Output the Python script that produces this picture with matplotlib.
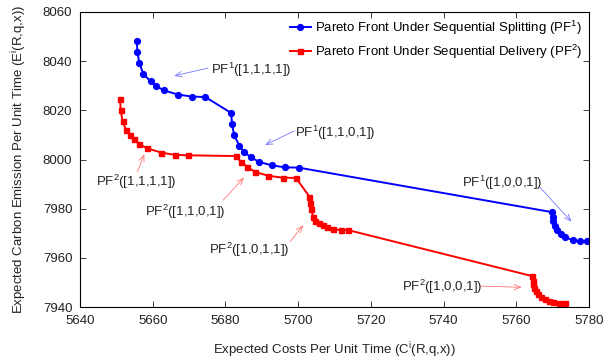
import matplotlib
matplotlib.use('Agg')
import matplotlib.pyplot as plt

plt.rcParams['font.family'] = ['Liberation Sans', 'DejaVu Sans']
plt.rcParams['mathtext.default'] = 'regular'
plt.rcParams['font.size'] = 9.5

# PF1: sequential splitting
cost_pf1 = [5655.6, 5655.8, 5656.3, 5657.4, 5659.4, 5660.9, 5663.1, 5667.0, 5670.8, 5674.5,
            5681.6, 5681.8, 5682.4, 5683.8, 5685.2, 5686.9, 5689.1, 5692.8, 5696.5, 5700.1,
            5769.8, 5770.0, 5770.2, 5770.7, 5771.3, 5772.2, 5773.5, 5775.5, 5777.5, 5779.4]
emis_pf1 = [8048.3, 8043.6, 8039.4, 8034.8, 8031.8, 8029.9, 8028.1, 8026.4, 8025.6, 8025.4,
            8018.9, 8014.4, 8010.0, 8005.6, 8002.9, 8001.1, 7999.1, 7997.6, 7996.8, 7996.7,
            7978.6, 7976.7, 7975.1, 7972.9, 7971.3, 7969.7, 7968.3, 7967.2, 7966.7, 7966.7]

# PF2: sequential delivery
cost_pf2 = [5651.0, 5651.2, 5651.7, 5652.7, 5653.8, 5654.9, 5656.3, 5658.5, 5662.4, 5666.0,
            5669.7, 5682.9, 5684.3, 5686.0, 5688.0, 5691.8, 5695.7, 5699.4,
            5703.1, 5703.3, 5703.5, 5704.2, 5704.7, 5705.7, 5706.7, 5707.8, 5709.7, 5711.7, 5713.7,
            5764.3, 5764.5, 5764.7, 5765.0, 5765.4, 5766.0, 5766.7, 5767.8, 5769.1, 5770.2, 5771.7, 5773.3]
emis_pf2 = [8024.6, 8020.1, 8015.5, 8012.0, 8010.1, 8008.2, 8006.3, 8004.5, 8002.8, 8001.9,
            8001.7, 8001.4, 7998.9, 7997.1, 7995.0, 7993.4, 7992.6, 7992.5,
            7984.9, 7982.4, 7979.7, 7976.7, 7975.1, 7974.0, 7973.2, 7972.7, 7971.6, 7971.3, 7971.3,
            7952.6, 7950.7, 7949.3, 7947.7, 7946.4, 7945.3, 7944.2, 7943.4, 7942.5, 7942.0, 7941.7, 7941.7]

# (label, arrow head, arrow tail, text pos, ha, colour)
notes = [
    ('PF$^1$([1,1,1,1])', (5665.9, 8034.0), (5675.2, 8037.2), (5676.0, 8036.4), 'left', '#7777ff'),
    ('PF$^1$([1,1,0,1])', (5690.9, 8005.9), (5698.9, 8011.6), (5699.2, 8010.8), 'left', '#7777ff'),
    ('PF$^1$([1,0,0,1])', (5775.2, 7974.7), (5766.5, 7988.7), (5745.2, 7990.3), 'left', '#7777ff'),
    ('PF$^2$([1,1,1,1])', (5657.7, 8002.2), (5655.8, 7995.0), (5644.4, 7990.8), 'left', '#ff7777'),
    ('PF$^2$([1,1,0,1])', (5685.1, 7992.7), (5679.4, 7983.5), (5657.9, 7978.8), 'left', '#ff7777'),
    ('PF$^2$([1,0,1,1])', (5701.4, 7973.3), (5697.8, 7966.6), (5697.5, 7963.2), 'right', '#ff7777'),
    ('PF$^2$([1,0,0,1])', (5761.5, 7948.0), (5750.3, 7948.5), (5728.5, 7948.2), 'left', '#ff7777'),
]

fig = plt.figure(figsize=(6.12, 3.61), dpi=100)
ax = fig.add_axes([80/612, 1-307/361, 509/612, 295/361])

ax.plot(cost_pf1, emis_pf1, '-o', color='#0000ff', lw=1.4, ms=4.2,
        label='Pareto Front Under Sequential Splitting (PF$^1$)')
ax.plot(cost_pf2, emis_pf2, '-s', color='#ff0000', lw=1.4, ms=3.6,
        label='Pareto Front Under Sequential Delivery (PF$^2$)')

for label, head, tail, tpos, ha, c in notes:
    ax.annotate('', xy=head, xytext=tail,
                arrowprops=dict(arrowstyle='->,head_length=0.5,head_width=0.2',
                                color=c, lw=0.6, shrinkA=0, shrinkB=0))
    ax.text(tpos[0], tpos[1], label, ha=ha, va='center', color='#222222')

ax.set_xlim(5640, 5780)
ax.set_ylim(7940, 8060)
ax.set_xticks(range(5640, 5781, 20))
ax.set_yticks(range(7940, 8061, 20))
ax.tick_params(direction='in', top=True, right=True, length=4, width=0.6,
               colors='#222222', pad=5.5)
for s in ax.spines.values():
    s.set_linewidth(0.8)

ax.set_xlabel('Expected Costs Per Unit Time (C$^i$(R,q,x))', color='#222222', labelpad=10)
ax.set_ylabel('Expected Carbon Emission Per Unit Time (E$^i$(R,q,x))', color='#222222', labelpad=10)

leg = ax.legend(loc='upper right', frameon=False, handlelength=1.6, handletextpad=0.3,
                borderaxespad=0.1, labelspacing=0.45, fontsize=9.5)

fig.savefig('out.png', dpi=100)
